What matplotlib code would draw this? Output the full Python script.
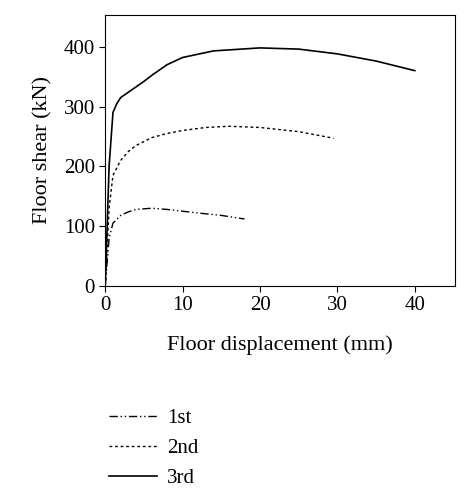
import matplotlib
matplotlib.use("Agg")
import matplotlib.pyplot as plt

x1 = [0, 0.5, 1, 2, 3, 4, 6, 8, 12, 15, 18]
y1 = [0, 80, 105, 118, 124, 128, 130, 128, 122, 118, 112]
x2 = [0, 0.5, 1, 2, 3, 4, 6, 8, 10, 13, 16, 20, 25, 29.5]
y2 = [0, 130, 185, 210, 225, 235, 248, 255, 260, 265, 267, 265, 258, 247]
x3 = [0, 0.5, 1, 1.5, 2, 3, 4, 5, 6, 8, 10, 14, 20, 25, 30, 35, 40]
y3 = [0, 200, 290, 305, 315, 324, 333, 342, 352, 370, 382, 393, 398, 396, 388, 376, 360]
labels = ["1st", "2nd", "3rd"]

plt.rcParams['font.family'] = ['Liberation Serif', 'DejaVu Serif']
fig = plt.figure(figsize=(4.74, 5.0), dpi=100)
ax = fig.add_axes([0.222, 0.428, 0.738, 0.542])
l1, = ax.plot(x1, y1, color='black', lw=1, ls=(0, (6, 2, 1, 2, 1, 2)))
l2, = ax.plot(x2, y2, color='black', lw=1, ls=(0, (2, 2)))
l3, = ax.plot(x3, y3, color='black', lw=1.2, ls='-')
ax.set_xlim(0, 45.2)
ax.set_ylim(0, 453)
ax.set_xticks([0, 10, 20, 30, 40])
ax.set_yticks([0, 100, 200, 300, 400])
ax.tick_params(labelsize=15, direction='out', length=4)
ax.set_xlabel("Floor displacement (mm)", fontsize=16, labelpad=14)
ax.set_ylabel("Floor shear (kN)", fontsize=16, labelpad=8)
fig.legend([l1, l2, l3], labels, loc='upper left', bbox_to_anchor=(0.19, 0.22),
           frameon=False, fontsize=15, handlelength=2.3, handletextpad=0.5,
           labelspacing=0.5)
fig.savefig("out.png", dpi=100)
